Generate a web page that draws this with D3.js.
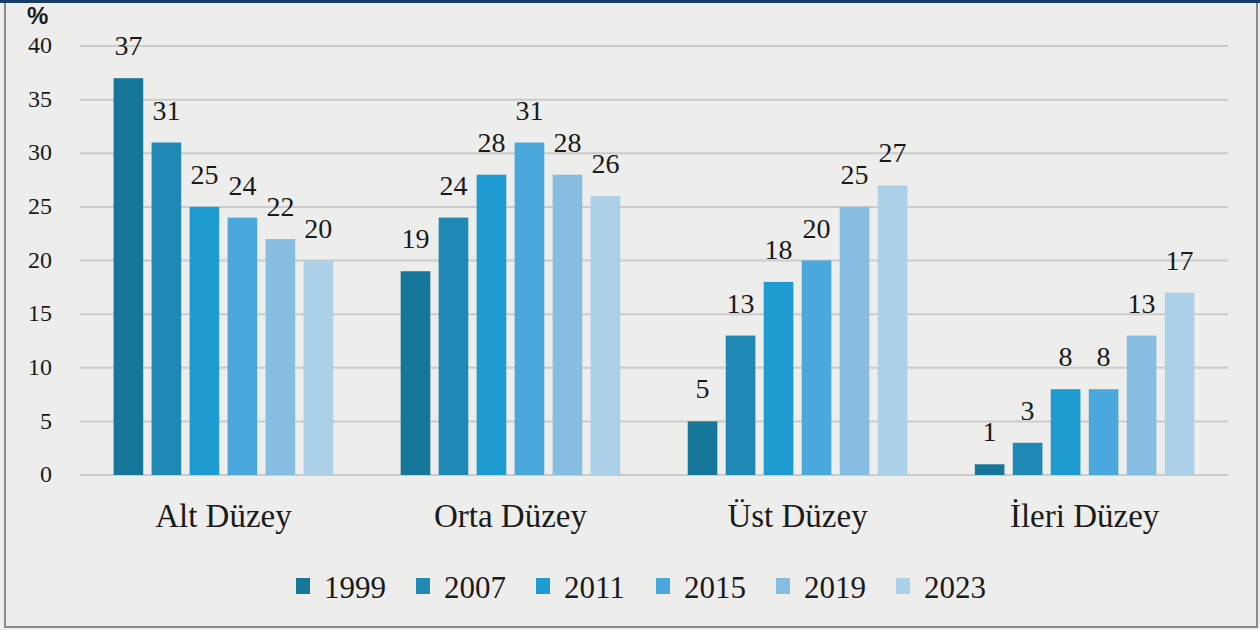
<!DOCTYPE html>
<html lang="tr">
<head>
<meta charset="UTF-8">
<title>Düzey dağılımı</title>
<style>
  html, body { margin: 0; padding: 0; background: #fff; }
  svg { display: block; }
  text { font-family: "Liberation Serif", "Times New Roman", serif; fill: #1a1a1a; }
</style>
</head>
<body>
<svg class="chart"></svg>
<script src="https://cdnjs.cloudflare.com/ajax/libs/d3/7.8.5/d3.min.js"></script>
<script>
  // veriler
  const categories = ["Alt Düzey", "Orta Düzey", "Üst Düzey", "İleri Düzey"];
  const years = ["1999", "2007", "2011", "2015", "2019", "2023"];
  const v1999 = [37, 19, 5, 1];
  const v2007 = [31, 24, 13, 3];
  const v2011 = [25, 28, 18, 8];
  const v2015 = [24, 31, 20, 8];
  const v2019 = [22, 28, 25, 13];
  const v2023 = [20, 26, 27, 17];
  const yTicks = [0, 5, 10, 15, 20, 25, 30, 35, 40];
  const colors = ["#17779b", "#1f88b4", "#1e9bd0", "#4aa8dc", "#86bde1", "#abd0e8"];

  const series = [v1999, v2007, v2011, v2015, v2019, v2023];

  const W = 1260, H = 630;
  const mLeft = 80, mRight = 1228, mTop = 46, mBottom = 475;
  const serif = "'Liberation Serif', 'Times New Roman', serif";

  const svg = d3.select("svg.chart").attr("width", W).attr("height", H);

  // arka plan + çerçeve
  svg.append("rect").attr("x", 0).attr("y", 0).attr("width", W).attr("height", H).attr("fill", "#ededeb");
  svg.append("rect").attr("x", 5).attr("y", 2).attr("width", W - 8).attr("height", H - 5)
    .attr("fill", "none").attr("stroke", "#8a8a8a").attr("stroke-width", 2);
  svg.append("rect").attr("x", 0).attr("y", 0).attr("width", W).attr("height", 3).attr("fill", "#163e63");

  const x0 = d3.scaleBand().domain(categories).range([mLeft, mRight]).paddingInner(0.235).paddingOuter(0.117);
  const x1 = d3.scaleBand().domain(years).range([0, x0.bandwidth()]).paddingInner(0.22).paddingOuter(0);
  const y = d3.scaleLinear().domain([0, 40]).range([mBottom, mTop]);

  // ızgara
  svg.append("g").selectAll("line").data(yTicks).join("line")
    .attr("x1", mLeft).attr("x2", mRight)
    .attr("y1", d => y(d)).attr("y2", d => y(d))
    .attr("stroke", "#cbcbcb").attr("stroke-width", 2);

  // y ekseni
  const yAxis = d3.axisLeft(y).tickValues(yTicks).tickSize(0).tickPadding(0);
  svg.append("g").attr("transform", `translate(52,-1)`).call(yAxis)
    .call(g => g.select(".domain").remove())
    .selectAll("text")
    .style("font-family", serif)
    .style("font-size", "24px").attr("fill", "#1a1a1a");

  svg.append("text").attr("x", 27).attr("y", 24)
    .style("font-family", "'Liberation Sans', Arial, sans-serif")
    .style("font-weight", "bold").style("font-size", "24px").text("%");

  // çubuklar
  const groups = svg.append("g").selectAll("g").data(categories).join("g")
    .attr("transform", d => `translate(${x0(d)},0)`);

  groups.selectAll("rect")
    .data((c, ci) => years.map((yr, si) => ({ yr, v: series[si][ci], si })))
    .join("rect")
    .attr("x", d => x1(d.yr))
    .attr("y", d => y(d.v))
    .attr("width", x1.bandwidth())
    .attr("height", d => y(0) - y(d.v))
    .attr("fill", d => colors[d.si]);

  groups.selectAll("text.val")
    .data((c, ci) => years.map((yr, si) => ({ yr, v: series[si][ci], si })))
    .join("text").attr("class", "val")
    .attr("x", d => x1(d.yr) + x1.bandwidth() / 2)
    .attr("y", d => y(d.v) - 23)
    .attr("text-anchor", "middle")
    .style("font-size", "28px")
    .text(d => d.v);

  // x ekseni kategori etiketleri
  const xAxis = d3.axisBottom(x0).tickSize(0).tickPadding(0);
  svg.append("g").attr("transform", `translate(0,527)`).call(xAxis)
    .call(g => g.select(".domain").remove())
    .selectAll("text")
    .style("font-family", serif)
    .style("font-size", "33px").attr("fill", "#1a1a1a")
    .attr("dy", "0");

  // lejant
  const legendX = d3.scaleBand().domain(years).range([296, 1016]);
  const legend = svg.append("g").selectAll("g").data(years).join("g")
    .attr("transform", d => `translate(${legendX(d)},598)`);
  legend.append("rect").attr("x", 0).attr("y", -20).attr("width", 14).attr("height", 16)
    .attr("fill", (d, i) => colors[i]);
  legend.append("text").attr("x", 28).attr("y", 0)
    .style("font-size", "31px").text(d => d);
</script>
</body>
</html>
